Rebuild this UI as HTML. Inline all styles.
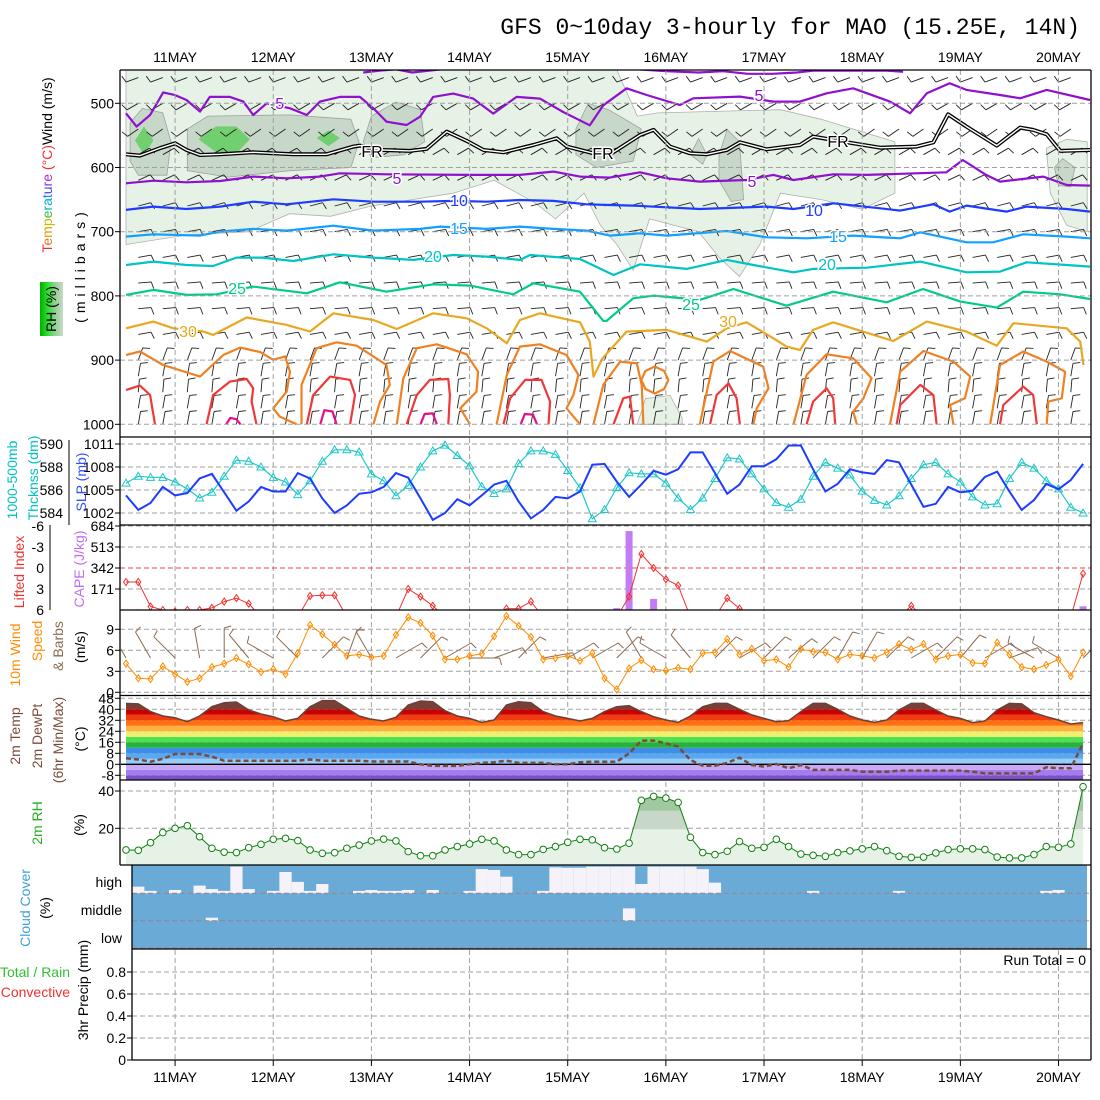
<!DOCTYPE html>
<html><head><meta charset="utf-8">
<style>
html,body{margin:0;padding:0;background:#fff;}
svg{display:block;font-family:"Liberation Sans",sans-serif;}
.t{font-size:14px;fill:#000;}
.tk{font-size:13px;fill:#000;}
</style></head>
<body>
<svg id="chart" width="1100" height="1100" viewBox="0 0 1100 1100" xmlns="http://www.w3.org/2000/svg">
<defs>
<clipPath id="cp1"><rect x="121" y="70" width="970" height="367"/></clipPath>
<clipPath id="cp2"><rect x="121" y="437" width="970" height="88"/></clipPath>
<clipPath id="cp3"><rect x="121" y="525" width="970" height="85"/></clipPath>
<clipPath id="cp4"><rect x="121" y="610" width="970" height="85"/></clipPath>
<clipPath id="cp5"><rect x="121" y="696" width="970" height="84"/></clipPath>
<clipPath id="cp6"><rect x="121" y="780" width="970" height="85"/></clipPath>
<linearGradient id="rhg" x1="0" x2="1" y1="0" y2="0">
<stop offset="0" stop-color="#00b000"/><stop offset="0.35" stop-color="#30e030"/><stop offset="0.65" stop-color="#90d090"/><stop offset="1" stop-color="#c8d8c8"/>
</linearGradient>
</defs>
<rect x="0" y="0" width="1100" height="1100" fill="#fff"/>
<g id="layer"></g>
<text x="1080" y="34" text-anchor="end" style="font-family:'Liberation Mono',monospace;font-size:23px">GFS 0~10day 3-hourly for MAO (15.25E, 14N)</text>

<!-- panel 1 titles -->
<text transform="rotate(-90 52 165)" x="52" y="165" text-anchor="middle" class="t"><tspan fill="#f03030">T</tspan><tspan fill="#f07020">e</tspan><tspan fill="#e0a000">m</tspan><tspan fill="#c0c000">p</tspan><tspan fill="#40c040">e</tspan><tspan fill="#00c0a0">r</tspan><tspan fill="#00b0e0">a</tspan><tspan fill="#2080ff">t</tspan><tspan fill="#4040ff">u</tspan><tspan fill="#8040e0">r</tspan><tspan fill="#a030d0">e</tspan><tspan fill="#f03030"> (°C)</tspan><tspan fill="#000">Wind (m/s)</tspan></text>
<rect x="40" y="282" width="23" height="54" fill="url(#rhg)"/>
<text transform="rotate(-90 56 309)" x="56" y="309" text-anchor="middle" class="t">RH (%)</text>
<text transform="rotate(-90 85 265)" x="85" y="265" text-anchor="middle" class="t" style="letter-spacing:5px">(millibars)</text>
<!-- panel 2 -->
<text transform="rotate(-90 17 480)" x="17" y="480" text-anchor="middle" class="t" fill="#00c8c8" style="fill:#00c0c0">1000-500mb</text>
<text transform="rotate(-90 38 478)" x="38" y="478" text-anchor="middle" class="t" style="fill:#00c0c0">Thcknss (dm)</text>
<text transform="rotate(-90 86 482)" x="86" y="482" text-anchor="middle" class="t" style="fill:#3050ff">SLP (mb)</text>
<!-- panel 3 -->
<text transform="rotate(-90 24 572)" x="24" y="572" text-anchor="middle" class="t" style="fill:#f03030">Lifted Index</text>
<text transform="rotate(-90 84 569)" x="84" y="569" text-anchor="middle" class="t" style="fill:#c070f0">CAPE (J/kg)</text>
<!-- panel 4 -->
<text transform="rotate(-90 20 655)" x="20" y="655" text-anchor="middle" class="t" style="fill:#ff8c00">10m Wind</text>
<text transform="rotate(-90 42 641)" x="42" y="641" text-anchor="middle" class="t" style="fill:#ff8c00">Speed</text>
<text transform="rotate(-90 63 646)" x="63" y="646" text-anchor="middle" class="t" style="fill:#8a6a50">&amp; Barbs</text>
<text transform="rotate(-90 85 647)" x="85" y="647" text-anchor="middle" class="t">(m/s)</text>
<!-- panel 5 -->
<text transform="rotate(-90 20 736)" x="20" y="736" text-anchor="middle" class="t" style="fill:#7a4a3a">2m Temp</text>
<text transform="rotate(-90 42 736)" x="42" y="736" text-anchor="middle" class="t" style="fill:#7a4a3a">2m DewPt</text>
<text transform="rotate(-90 63 740)" x="63" y="740" text-anchor="middle" class="t" style="fill:#7a4a3a">(6hr Min/Max)</text>
<text transform="rotate(-90 85 739)" x="85" y="739" text-anchor="middle" class="t">(°C)</text>
<!-- panel 6 -->
<text transform="rotate(-90 42 823)" x="42" y="823" text-anchor="middle" class="t" style="fill:#20b020">2m RH</text>
<text transform="rotate(-90 84 825)" x="84" y="825" text-anchor="middle" class="t">(%)</text>
<!-- panel 7 -->
<text transform="rotate(-90 30 908)" x="30" y="908" text-anchor="middle" class="t" style="fill:#40a0d8">Cloud Cover</text>
<text transform="rotate(-90 50 908)" x="50" y="908" text-anchor="middle" class="t">(%)</text>
<text x="122" y="887" text-anchor="end" class="t">high</text>
<text x="122" y="915" text-anchor="end" class="t">middle</text>
<text x="122" y="943" text-anchor="end" class="t">low</text>
<!-- panel 8 -->
<text x="70" y="977" text-anchor="end" class="t" style="fill:#30c030">Total / Rain</text>
<text x="70" y="997" text-anchor="end" class="t" style="fill:#f03030">Convective</text>
<text transform="rotate(-90 88 990)" x="88" y="990" text-anchor="middle" class="t">3hr Precip (mm)</text>
<text x="1086" y="965" text-anchor="end" class="t">Run Total = 0</text>
</svg>
<script>
// ---------- data ----------
const dayLabels = ["11MAY","12MAY","13MAY","14MAY","15MAY","16MAY","17MAY","18MAY","19MAY","20MAY"];
const pTicks = [500,600,700,800,900,1000];
const slpTicks = [1011,1008,1005,1002];
const thkTicks = [590,588,586,584];
const liTicks = [-6,-3,0,3,6];
const capeTicks = [684,513,342,171];
const windTicks = [9,6,3,0];
const tempTicks = [48,40,32,24,16,8,0,-8];
const rhTicks = [40,20];
const precipTicks = [0.8,0.6,0.4,0.2,0];

const slp = [1004.3,1002.4,1003.3,1005.4,1004.3,1004.6,1006.5,1007.1,1004.7,1002.3,
1003.5,1005.4,1004.8,1004.8,1007.2,1006.5,1003.9,1002,1003,1004.5,
1004.7,1005.4,1007.2,1006.6,1003.9,1001.1,1002,1003.8,1003,1004.3,
1005.7,1006.2,1003.5,1001.3,1002.4,1004.1,1003.9,1004.8,1008.3,1008.4,
1006.1,1004.1,1005.7,1007.5,1007,1007.7,1009.9,1009.9,1007.2,1004.5,
1005.7,1008.1,1008.1,1009,1010.8,1010.8,1007.7,1004.8,1005.8,1007.7,
1007.3,1007.1,1008.9,1008.6,1005.7,1002.8,1003.2,1005.4,1004.7,1004.9,
1006.7,1007.4,1004.8,1002.4,1003.7,1005.8,1005.1,1006.3,1008.4];
const thickness = [586.6,587.2,587.1,587.1,586.7,586.1,585.3,585.8,587.2,588.6,
588.5,588,587.1,586.7,585.6,586.8,588.5,589.5,589.5,589.3,
587.4,586.8,585.5,586.4,588,589.4,589.9,589,588.1,586.3,
585.7,586.1,588.3,589.4,589.4,589.1,587.7,586.2,583.5,584.3,
586.2,587.5,587.4,587.4,586.6,585.3,584.3,585.3,587,588.8,
588.7,587.4,586.1,584.9,584.5,585.2,587.2,588.4,587.9,587.3,
585.9,585.1,584.7,585.5,587,588.2,588.4,587.4,586.7,585.4,
584.7,584.8,587,588.4,587.9,586.8,586.1,584.5,584];
const liftedIndex = [2,2,5.5,6,6.2,6,6,5.7,4.8,4.3,
5.1,7,7,7,7,4,3.9,3.9,7,7,
7,7,7,3,4.1,5.4,7,7,7,7,
7,5.8,5.8,4.8,7,7,7,7,7,7,
7,4.1,-2,0,1.6,2.5,7,7,7,4.3,
5.8,7,7,7,7,7,7,7,7,7,
7,7,7,7,5.4,7,7,7,7,7,
7,7,7,7,7,7,7,7,0.8];
const cape = [0,5,0,0,0,0,0,0,0,0, 0,0,0,0,0,0,0,0,0,0, 0,0,0,0,0,0,0,0,0,0, 0,0,0,0,0,0,0,0,0,0,
15,643,0,90,0,0,0,0,0,0, 0,0,0,0,0,0,0,0,0,0, 0,0,0,0,0,0,0,0,0,0, 0,0,0,0,0,0,0,0,30];
const windSpeed = [4.1,2,1.9,3.7,2.6,1.5,2,3.6,4.1,4.9,
4,2.9,3.3,2.6,5.6,9.6,8.3,6.8,5.2,5.4,
5,5.2,8.2,10.7,9.9,8.1,4.7,4.7,5.2,5.5,
8,10.9,9.5,7.9,4.7,4.9,5.2,4.5,5.6,2,
0.4,3.4,4.6,3.3,3.1,3.5,3.3,5.6,5.7,7.6,
5.4,6.2,4.5,4.7,3.6,6.2,5.8,5.7,4.7,5.4,
5.2,4.9,5.7,6.9,6.1,6.9,4.7,5.2,5.4,4.2,
4.1,7.1,5.4,3.6,3.3,3.9,4.7,2.3,5.7];
const windDir10m = [330,330,315,350,0,320,300,315,45,20,330,60,45,60,90,70,45,80,60,60,45,330,300,320,45,60,45,50,45,30,30,45,60,45,40,60,70,300,300,45];
const temp2m = [44.3,43.9,38.3,35.1,33.9,31,35.1,41.9,44.8,45.3,
39.5,36.6,34.6,31.5,33.4,41.9,46.3,46.3,40.7,35.1,
32.7,31.5,34.2,43.1,46,45.5,39,35.1,33.4,30.5,
32.2,43.1,45.5,44.8,38.3,35.1,33.4,31.5,33.4,38.3,
41.9,42.6,38.3,34.6,32.2,30.5,35.1,41.9,44.3,44.3,
40,35.9,33.4,31,31.7,38.3,44.3,44.3,40,35.1,
32.2,30.5,32.2,39.5,44.3,44.3,39.5,35.1,33.4,30.3,
31.5,39.5,44.3,43.9,37.5,34.6,32.2,29.3,30.3];
const dew2m = [4.4,3.5,1.9,4,7.5,7.5,7.5,5.5,2.6,2.6,
2.6,2.6,2.6,2.6,2.6,3.5,2.6,2.6,2.6,2.6,
2,2,2,2,0,-1.2,-1.2,-1.2,0,1,
1.5,2.6,1,1,1,0,0,1.5,1.9,1.9,
1.9,8,17.2,17.2,15.3,12.8,3.1,-1,-1,1,
4.8,-0.5,-1.7,0.2,-2.9,-0.5,-4.1,-4.1,-4.1,-4.1,
-5.4,-5.4,-5.4,-4.6,-4.6,-4.6,-4.6,-4.6,-4.6,-5.4,
-6.6,-6.6,-6.6,-6.6,-6.6,-2.2,-2.9,-2.9,15.3];
const rh2m = [8.4,8.2,12.3,17.7,20,21.4,15.5,9.3,7.2,7,
9.6,11.4,14.1,14.6,13.4,8.4,6.6,6.9,9.3,11,
13.2,14.2,13.2,7.5,5.3,5.3,8.4,10.2,11.6,14.1,
13.2,8.4,5.9,5.9,8.7,10.2,12.5,14.1,13.8,9.6,
8.9,12,35,37.1,36.2,33.9,15.2,7,5.9,7.7,
12.9,9.3,9.8,14.1,10.2,6.2,5.5,5,7,7.9,
9,10.2,8,5,4.4,4.6,6.8,8.6,9,9,
8.6,4.6,4.1,4.1,5.9,10.2,9.8,11.6,42.3];
const highCloud = [100,75,91,100,87.5,100,71,84,91,0,
84,100,91,20,57,91,65,100,100,91,
87.5,91,91,87.5,100,87.5,100,100,91,9,
12.5,37.5,100,100,91,2.5,4,4,0,0,
0,0,65,0,0,0,0,9,60,100,
100,100,100,100,100,100,91,100,100,100,
100,100,100,91,100,100,100,100,100,100,
100,100,100,100,100,91,87.5,100,100];
const midCloud = highCloud.map(()=>100); midCloud[7]=89; midCloud[41]=55;
const lowCloud = highCloud.map(()=>100);
const precip = highCloud.map(()=>0);

// Upper-air isotherms: hours since start / pressure (mb)
const isoM5H = [0,2.6,5.9,9.1,12,14.8,18.1,20.5,25.4,28.7,31.1,34.4,40.1,44.2,47.4,52.3,57.2,60.5,63.7,68.6,71.9,75.1,80,84.9,89.8,95.5,101.2,106.9,113.4,116.7,122.4,127.3,135.4,138.7,150.1,158.3,164.8,171.3,177.8,186.8,191.7,195.8,201.4,205.5,213.7,218.6,225.1,235.7];
const isoM5P = [515.6,536.3,518.2,483,487.2,494.8,513,490,490,497.4,518.2,500,507.8,518.2,497.4,490,490,507.8,528.6,533.8,520.8,490,484.9,492.7,516,490,492.7,513.5,534.3,503.1,476.6,487,502.6,492.2,489.6,497.4,497.4,484.4,476.6,497.4,515.6,484.4,468.8,479.2,487,492.2,479.2,494.8];
const isoM10H = [58,62,66,70,80,100,120,132,140,146,152,158,164,168,186,190];
const isoM10P = [452,449,447,452,445,445,445,450,452,450,454,454,452,449,449,451];
const isoFrH = [0,3.4,8.3,12,14.8,18.1,23,31.1,40.9,49,55.6,57.2,62.9,69.4,73.5,78.4,83.3,87.4,92.3,99.6,105.3,107.8,114.3,118.3,120,125.7,129,133,137.9,142,146.9,150.1,156.6,164.8,168,177.8,184.4,193.3,197.4,201,205.5,212.9,218.6,221.8,225.1,228.4,235.7];
const isoFrP = [579.4,581.4,570,562.3,572.7,580.5,579.4,576.3,579.4,579.4,567.5,565.9,572.7,574.2,571.1,544.1,558.6,572.7,576.3,564.9,554.5,567.5,577.9,579.4,572.7,549.3,541.5,567.5,577.9,579.4,572.7,560.7,571.7,564.9,551.9,562.3,569.1,567.5,560.7,517.1,536.3,565.9,537.9,541.5,548.3,574.2,572.7];
const iso5H = [0,6.7,14.8,23,31.1,39.3,47.4,52.3,63.7,84.1,96.3,104.5,111,118.3,125.7,132.2,140.3,151.7,158.3,163.2,172.9,181.1,200.6,204.6,210.3,213.7,224.3,230,235.7];
const iso5P = [624.6,620.5,623.1,621,614.2,616.8,614.2,609,610.6,611.6,611.6,606.4,614.2,615.8,607.5,616.8,622,619.4,611.6,619.4,610.6,611.6,607.5,588.3,611.6,622,614.2,627.2,628.2];
const iso10H = [0,6.7,14.8,23,31.1,39.3,50.7,60.5,71.9,80,88.2,96.3,104.5,112.6,118.3,124,140.3,156.6,163.2,172.9,184.4,189.3,197.4,201.4,205.5,215.3,220.2,230,235.7];
const iso10P = [666.1,660.9,664.6,660.9,653.2,657.3,649.5,653.2,653.2,652.1,653.2,650.6,652.1,657.3,658.4,659.4,664.6,660.9,664.6,655.8,663.6,667.2,657.3,668.7,659.4,668.7,660.9,664.6,668.7];
const iso15H = [0,6.7,18.1,23,31.1,39.3,50.7,60.5,71.9,76.8,88.2,96.3,104.5,112.6,118.3,125.7,132.2,146.9,156.6,166.4,177.8,189.3,194.2,205.5,212,219.4,230,235.7];
const iso15P = [707.7,704,706.1,699.9,695.7,698.3,690.6,698.3,695.7,692.1,695.7,692.1,695.7,698.3,706.1,702.5,706.1,698.9,708.7,710.3,706.1,710.3,701,716.5,716.5,704,707.7,710.3];
const iso20H = [0,6.7,14.8,21.3,27,33.4,40.9,50.7,60.5,70.3,80,88.2,96.3,98.8,111,118.3,119.2,125.7,137.1,146.9,153.4,163.2,168,181.1,194.2,205.5,213.7,220.2,230,235.7];
const iso20P = [751.8,746.6,751.8,753.4,740.4,740.4,745.6,735.2,740.4,744,736.3,738.8,744,736.3,742.5,764.8,767.4,750.8,758,744,751.8,763.2,758,756,746.6,763.2,762.2,747.7,751.8,754.4];
const iso25H = [0,6.7,14.8,22.2,31.1,44.2,52.3,63.7,75.1,84.1,94.7,99.6,111,116.7,117.5,124,129,140.3,148.5,161.5,172.9,186,194.9,204,212.9,219.4,228.4,235.7];
const iso25P = [798.5,790.7,798.5,797.5,785.5,795.9,778.8,793.4,781.9,784,797.5,780.4,793.4,839,839,803.7,799.6,806.3,789.2,815.2,793.4,810,789.2,808.9,818.3,793.4,797.5,804.8];
const iso30H = [0,6.7,11.6,18.9,21.3,29.5,39.3,45,50.7,60.5,66.2,75.1,83.3,88.2,93.1,96.3,101.2,111,113.4,114.3,116.5,122.4,132.2,142,146.9,151.7,158.3,161.5,164.8,168,172.9,187.6,195.8,205.5,212.9,217,230,233.3,234.1];
const iso30P = [850.4,840,850.4,855.5,860.7,833.7,845.2,855.5,827.1,837.5,851.5,827.1,834.9,850.4,873.8,837.5,827.1,841.1,871.2,925.7,897.2,855.6,853,871.2,850.4,841.1,866,879,884.2,853,841.1,870.2,840,855.6,877.5,842.6,850.4,871.2,907.6];
const iso35Arches = [
 [[0,3.4,9.1,18.1,23.8,27.9,32.8,36,38.9,40.1,39.3,36,37.6,41.7],[892,886.6,907.6,925.7,892,880.5,887.6,899.5,894.3,918,949,975,988,1000]],
 [[42.9,42.9,46.6,51.5,56.4,63.7,64.5,62.1,60.5],[1000,938.7,881.5,872.3,877.5,907.6,938.7,964.7,1000]],
 [[66.2,67.8,71.1,76,83.3,86.1,85.7,81.7,84.1],[1000,928.3,881.5,875.4,891,918,949,975,1000]],
 [[90.6,93.1,96.3,101.2,107.7,110.6,109.4,107.7,111],[1000,923,878.9,875.4,892,923,954.3,975,1000]],
 [[114.3,116.7,120.8,124.9,126.1,126.5],[1000,938.7,902.4,905,938.7,1000]],
 [[126,127,129.3,131.6,132.6,131.6,129.3,127,126],[931,917,910,917,931,945,952,945,931]],
 [[140.3,143.6,147.7,155.8,157.1,154.2,153.4],[1000,902.4,885.8,910.2,943.9,975,1000]],
 [[163.2,166.4,171.3,177.8,182.3,180.3,177.8,178.7],[1000,923,891,897.2,928.3,959.5,980.3,1000]],
 [[186.8,189.3,195,202.3,206.4,205.1,201.5,202.3],[1000,918,885.8,902.4,925.7,959.5,969.9,1000]],
 [[211.3,213.7,219.4,225.1,229.6,228.8,225.5,225.1],[1000,907.6,886.6,902.4,918,959.5,964.7,1000]]
];
const iso40Arches = [
 [[0,3.4,5.9,7.1],[946.5,939.7,954.3,1000]],
 [[19.7,21.3,25.4,29.5,31.1,30.7,31.9],[1000,954.3,933.5,929.4,943.9,964.7,1000]],
 [[44.2,45.8,49.9,54.8,56,54.8],[1000,954.3,925.7,930.9,954.3,1000]],
 [[68.6,71.1,74.3,78.8,79.2,78.8],[1000,954.3,930.9,929.4,954.3,1000]],
 [[92.3,93.9,97.6,101.6,103.7,103.3],[1000,959.5,930.9,930.9,964.7,1000]],
 [[119.2,121.6,123.2,124],[1000,959.5,956.9,1000]],
 [[142.8,144.4,147.3,149.3,150.1],[1000,954.3,936.1,959.5,1000]],
 [[166.4,168,171.3,172.9,173.4],[1000,964.7,943.9,959.5,1000]],
 [[188.4,189.3,194.2,197.4,198.2],[1000,969.9,938.7,954.3,1000]],
 [[213.7,214.5,219.4,221.8,222.7],[1000,969.9,941.3,954.3,1000]]
];
const iso45Arches = [
 [[24.5,25.5,27,28],[1000,990,992,1000]],
 [[47.5,48.5,50.5,51.5],[1000,978,980,1000]],
 [[72,73,75,76],[1000,984,983,1000]],
 [[96.5,97.5,99.5,100.5],[1000,984,985,1000]]
];
const rhLight = [
 [[0,120,125,130,160,170,188,188,180,170,160,155,150,145,140,128,124,120,116,112,105,100,90,80,70,60,50,40,30,15,0],
  [448,448,520,515,510,525,560,640,665,650,640,720,770,740,700,680,760,720,690,640,680,655,620,640,650,660,676,672,700,705,720]],
 [[225,230,235,235,230,226],[570,556,560,700,690,640]],
 [[125,127,133,136,136],[1000,960,955,990,1000]]
];
const rhMid = [
 [[1,4,9,11,10,3,1],[530,508,515,560,612,612,590]],
 [[15,20,40,55,57,55,40,25,15],[540,520,518,525,560,600,605,615,605]],
 [[58,60,66,72,73,68,60],[560,520,498,510,560,580,585]],
 [[110,113,118,126,124,115,110],[540,500,510,540,590,600,580]],
 [[138,140,142,141],[580,555,580,595]],
 [[145,147,150,151,148,145],[580,541,560,650,653,620]],
 [[227,229,232,231,228],[600,586,600,630,628]]
];
const rhHigh = [
 [[2.2,4.4,6.7,4.4],[558,536,558,580]],
 [[17.7,22,27,30.3,27,22],[556,536,536,556,578,576]],
 [[46.6,49.5,52.3,49.5],[554,542,554,567]]
];
const barbLevels = [460,500,540,580,620,660,700,740,780,820,860,900,925,950,975,1000];
const barbDirs   = [250,240,235,60,65,75,80,80,85,85,80,20,10,5,10,10];
const barbSpeeds = [10,10,12,8,10,10,10,10,10,10,10,8,8,8,8,8];

// ---------- scales ----------
const X = h => 126 + h * 4.09;
const XI = i => X(3 * i);
const Yp = p => 103.3 + (p - 500) * 0.642;
const Yslp = v => 444 + (1011 - v) * 7.667;
const Ythk = v => 444 + (590 - v) * 11.5;
const Yli = v => 568 + v * 7;
const Ycape = v => 610 - v * 84 / 684;
const Ywind = v => 692.3 - 7 * v;
const Ytemp = v => 764.3 - 1.375 * v;
const Yrh = v => 865.6 - 1.865 * v;
const Ypr = v => 1060 - 110 * v;

const NS = "http://www.w3.org/2000/svg";
const root = document.getElementById("layer");
function mk(tag, attrs, parent) {
  const e = document.createElementNS(NS, tag);
  for (const k in attrs) e.setAttribute(k, attrs[k]);
  (parent || root).appendChild(e);
  return e;
}
function grp(clip, name) {
  const g = mk("g", clip ? {"clip-path": "url(#" + clip + ")"} : {});
  
  
  return g;
}
const pts = (xs, ys) => xs.map((x, k) => x.toFixed(1) + "," + ys[k].toFixed(1)).join(" ");
const idx = slp.map((_, i) => i);

// ---------- panel 1: upper air ----------
const g1 = grp("cp1", "upper-air-panel");
rhLight.forEach(r => {
  const e = mk("polygon", {points: pts(r[0].map(X), r[1].map(Yp)), fill: "#e6f2e6", stroke: "#b0b0b0", "stroke-width": 0.8}, g1);
  
  
});
rhMid.forEach(r => {
  const e = mk("polygon", {points: pts(r[0].map(X), r[1].map(Yp)), fill: "#c8d8c8", stroke: "#a0a0a0", "stroke-width": 0.8}, g1);
  
  
});
rhHigh.forEach(r => {
  const e = mk("polygon", {points: pts(r[0].map(X), r[1].map(Yp)), fill: "#70d070", stroke: "none"}, g1);
  
  
});
function barb(parent, x, y, dir, len, spd, color, w) {
  const a = dir * Math.PI / 180;
  const ex = x + Math.sin(a) * len, ey = y - Math.cos(a) * len;
  const b = (dir + 90) * Math.PI / 180;
  let d = "M" + x.toFixed(1) + "," + y.toFixed(1) + "L" + ex.toFixed(1) + "," + ey.toFixed(1);
  const n = Math.max(1, Math.round(spd / 10));
  for (let k = 0; k < n; k++) {
    const sx = ex - Math.sin(a) * k * 3, sy = ey + Math.cos(a) * k * 3;
    d += "M" + sx.toFixed(1) + "," + sy.toFixed(1) + "L" + (sx + Math.sin(b) * 7 + Math.sin(a) * 2).toFixed(1) + "," + (sy - Math.cos(b) * 7 - Math.cos(a) * 2).toFixed(1);
  }
  return mk("path", {d: d, stroke: color, "stroke-width": w, fill: "none"}, parent);
}
barbLevels.forEach((p, li) => {
  for (let i = 1; i < slp.length; i += 2) {
    const e = barb(g1, XI(i), Yp(p), barbDirs[li], 13, barbSpeeds[li], "#222", 0.9);
    
    
  }
});
function contour(h, p, color, w, name) {
  const e = mk("polyline", {points: pts(h.map(X), p.map(Yp)), fill: "none", stroke: color, "stroke-width": w, "stroke-linejoin": "round"}, g1);
  
  
  return e;
}
contour(isoM10H, isoM10P, "#9010d0", 2.2, "isotherm-minus10");
contour(isoM5H, isoM5P, "#9010d0", 2.2, "isotherm-minus5");
contour(isoFrH, isoFrP, "#000", 4, "freezing-level-outer");
contour(isoFrH, isoFrP, "#fff", 1.4, "freezing-level-inner");
contour(iso5H, iso5P, "#9010d0", 2.2, "isotherm-5");
contour(iso10H, iso10P, "#1e3cff", 2.2, "isotherm-10");
contour(iso15H, iso15P, "#10a0ff", 2.2, "isotherm-15");
contour(iso20H, iso20P, "#00c4c4", 2.2, "isotherm-20");
contour(iso25H, iso25P, "#00cc88", 2.2, "isotherm-25");
contour(iso30H, iso30P, "#e8a820", 2.2, "isotherm-30");
iso35Arches.forEach(a => contour(a[0], a[1], "#f08020", 2.2, "isotherm-35"));
iso40Arches.forEach(a => contour(a[0], a[1], "#f03838", 2.2, "isotherm-40"));
iso45Arches.forEach(a => contour(a[0], a[1], "#e0108a", 2.2, "isotherm-45"));

const contourLabels = [["-5",277,109,"#9010d0"],["5",397,184,"#9010d0"],["FR",372,157,"#000"],["10",459,206,"#1e3cff"],["15",459,234,"#10a0ff"],["20",433,262,"#00c4c4"],["25",237,294,"#00cc88"],["30",188,337,"#e8a820"],["FR",603,159,"#000"],
 ["5",759,101,"#9010d0"],["FR",838,147,"#000"],["5",752,187,"#9010d0"],["10",814,216,"#1e3cff"],["15",838,242,"#10a0ff"],["20",827,270,"#00c4c4"],["25",691,310,"#00cc88"],["30",728,327,"#e8a820"]];
contourLabels.forEach(l => {
  const bg = mk("rect", {x: l[1] - 10, y: l[2] - 13, width: 20, height: 15, fill: "#fff", opacity: 0.0}, g1);
  const t = mk("text", {x: l[1], y: l[2], "text-anchor": "middle", fill: l[3], "font-size": 16, stroke: "#fff", "stroke-width": 3, "paint-order": "stroke"}, g1);
  t.textContent = l[0];
  
  
});

// ---------- gridlines ----------
const gg = grp(null, "gridlines");
dayLabels.forEach((d, k) => {
  const x = X(12 + 24 * k);
  const l = mk("line", {x1: x, x2: x, y1: 70, y2: 1060, stroke: "#a0a0a0", "stroke-dasharray": "5,3", "stroke-width": 1}, gg);
  
  
  const t1 = mk("text", {x: x, y: 62, "text-anchor": "middle", "font-size": 14}, gg);
  t1.textContent = d;
  
  
  const t2 = mk("text", {x: x, y: 1082, "text-anchor": "middle", "font-size": 14}, gg);
  t2.textContent = d;
  
  
  const tk = mk("line", {x1: x, x2: x, y1: 1060, y2: 1066, stroke: "#000"}, gg);
  
  
});
function hgrid(y, x0, label, lx, name, color, dash) {
  const l = mk("line", {x1: x0, x2: 1091, y1: y, y2: y, stroke: color || "#a0a0a0", "stroke-dasharray": dash || "5,3"}, gg);
  
  
  if (label !== null) {
    const t = mk("text", {x: lx, y: y + 5, "text-anchor": "end", "font-size": 14}, gg);
    t.textContent = label;
    
    
    const tk = mk("line", {x1: lx + 1, x2: lx + 6, y1: y, y2: y, stroke: "#000"}, gg);
    
    
  }
}
pTicks.forEach(p => hgrid(Yp(p), 120, String(p), 114, "pressure"));
slpTicks.forEach(v => hgrid(Yslp(v), 120, String(v), 114, "slp"));
thkTicks.forEach(v => {
  const t = mk("text", {x: 63, y: Ythk(v) + 5, "text-anchor": "end", "font-size": 14}, gg);
  t.textContent = String(v);
  
  
});
const ax2 = mk("line", {x1: 69, x2: 69, y1: 440, y2: 525, stroke: "#000"}, gg);


liTicks.forEach(v => {
  const t = mk("text", {x: 44, y: Yli(v) + 5, "text-anchor": "end", "font-size": 14}, gg);
  t.textContent = String(v);
  
  
});
const ax3 = mk("line", {x1: 50, x2: 50, y1: 525, y2: 610, stroke: "#000"}, gg);


capeTicks.forEach(v => hgrid(Ycape(v), 120, String(v), 114, "cape", v === 342 ? "#f04040" : null));
windTicks.forEach(v => hgrid(Ywind(v), 120, String(v), 114, "wind"));
tempTicks.forEach(v => hgrid(Ytemp(v), 120, String(v), 114, "temp"));
rhTicks.forEach(v => hgrid(Yrh(v), 120, String(v), 114, "rh"));
[893.3, 920.7].forEach(y => hgrid(y, 132, null, 0, "cloud"));
precipTicks.forEach(v => hgrid(Ypr(v), 132, String(v), 126, "precip"));

// ---------- panel 2: SLP & thickness ----------
const g2 = grp("cp2", "slp-thickness-panel");
let e = mk("polyline", {points: pts(idx.map(XI), thickness.map(Ythk)), fill: "none", stroke: "#20c8c8", "stroke-width": 1.2}, g2);


thickness.forEach((v, i) => {
  const x = XI(i), y = Ythk(v);
  const m = mk("polygon", {points: x + "," + (y - 4) + " " + (x - 4) + "," + (y + 3) + " " + (x + 4) + "," + (y + 3), fill: "none", stroke: "#20c8c8", "stroke-width": 1}, g2);
  
  
});
e = mk("polyline", {points: pts(idx.map(XI), slp.map(Yslp)), fill: "none", stroke: "#1e3cff", "stroke-width": 2}, g2);



// ---------- panel 3: CAPE & LI ----------
const g3 = grp("cp3", "cape-li-panel");
cape.forEach((v, i) => {
  if (v <= 0) return;
  const b = mk("rect", {x: XI(i) - 3.5, y: Ycape(v), width: 7, height: 610 - Ycape(v), fill: "#c47cf4"}, g3);
  
  
});
e = mk("polyline", {points: pts(idx.map(XI), liftedIndex.map(Yli)), fill: "none", stroke: "#f03030", "stroke-width": 1}, g3);


liftedIndex.forEach((v, i) => {
  if (v > 6.3) return;
  const x = XI(i), y = Yli(v);
  const m = mk("polygon", {points: x + "," + (y - 3.5) + " " + (x + 2.5) + "," + y + " " + x + "," + (y + 3.5) + " " + (x - 2.5) + "," + y, fill: "none", stroke: "#f03030"}, g3);
  
  
});

// ---------- panel 4: 10m wind ----------
const g4 = grp("cp4", "wind-panel");
windDir10m.forEach((d, k) => {
  const i = k * 2;
  const b = barb(g4, XI(i), 658, d, 30, windSpeed[i], "#8a6a50", 1);
  
  
});
e = mk("polyline", {points: pts(idx.map(XI), windSpeed.map(Ywind)), fill: "none", stroke: "#ff8c00", "stroke-width": 1}, g4);


windSpeed.forEach((v, i) => {
  const x = XI(i), y = Ywind(v);
  const m = mk("polygon", {points: x + "," + (y - 3.5) + " " + (x + 2.5) + "," + y + " " + x + "," + (y + 3.5) + " " + (x - 2.5) + "," + y, fill: "none", stroke: "#ff8c00"}, g4);
  
  
});

// ---------- panel 5: temperature ----------
const g5 = grp("cp5", "temperature-panel");
const tclip = mk("clipPath", {id: "tclip"}, document.querySelector("defs"));
mk("polygon", {points: XI(0) + ",781 " + pts(idx.map(XI), temp2m.map(Ytemp)) + " " + XI(78) + ",781"}, tclip);
const tg = mk("g", {"clip-path": "url(#tclip)"}, g5);


const bandEdges = [-16,-8,-4,0,4,8,12,16,20,24,28,32,36,40,60];
const bandColors = ["#7a52c8","#a47cf0","#c8a8f8","#98ccf8","#5aa8f0","#3c8ee6","#28b040","#50e050","#f0f070","#ffb040","#ff7010","#f03c10","#c80000","#7a4038"];
bandColors.forEach((c, k) => {
  const r = mk("rect", {x: 120, y: Ytemp(bandEdges[k + 1]), width: 972, height: Ytemp(bandEdges[k]) - Ytemp(bandEdges[k + 1]), fill: c}, tg);
  
  
});
e = mk("polyline", {points: pts(idx.map(XI), temp2m.map(Ytemp)), fill: "none", stroke: "#6a4038", "stroke-width": 1.5}, g5);


e = mk("line", {x1: 120, x2: 1091, y1: Ytemp(0), y2: Ytemp(0), stroke: "#000", "stroke-width": 1.3}, g5);


e = mk("polyline", {points: pts(idx.map(XI), dew2m.map(Ytemp)), fill: "none", stroke: "#7a4a3a", "stroke-width": 2.5, "stroke-dasharray": "5,3"}, g5);



// ---------- panel 6: RH ----------
const g6 = grp("cp6", "rh-panel");
const rhArea = XI(0) + ",866 " + pts(idx.map(XI), rh2m.map(Yrh)) + " " + XI(78) + ",866";
const rclip = mk("clipPath", {id: "rclip"}, document.querySelector("defs"));
mk("polygon", {points: rhArea}, rclip);
const rg = mk("g", {"clip-path": "url(#rclip)"}, g6);


[[0, 20, "#e6f2e6"], [20, 30, "#c8d8c8"], [30, 100, "#a2c8a2"]].forEach(b => {
  const r = mk("rect", {x: 120, y: Yrh(b[1]), width: 972, height: Yrh(b[0]) - Yrh(b[1]) + 1, fill: b[2]}, rg);
  
  
});
e = mk("polyline", {points: pts(idx.map(XI), rh2m.map(Yrh)), fill: "none", stroke: "#108010", "stroke-width": 1}, g6);


rh2m.forEach((v, i) => {
  const c = mk("circle", {cx: XI(i), cy: Yrh(v), r: 3.3, fill: "#fff", stroke: "#108010"}, g6);
  
  
});

// ---------- panel 7: cloud ----------
const g7 = grp(null, "cloud-panel");
e = mk("rect", {x: 132, y: 865, width: 955, height: 84, fill: "#6aaad6"}, g7);


const bands = [[highCloud, 866.7, 893.3], [midCloud, 893.3, 920.7], [lowCloud, 920.7, 948]];
bands.forEach(b => {
  b[0].forEach((v, i) => {
    if (v >= 100) return;
    const h = (b[2] - b[1]) * (100 - v) / 100;
    const x0 = Math.max(132, XI(i) - 6.13), x1 = Math.min(1087, XI(i) + 6.13);
    if (x1 <= x0) return;
    const r = mk("rect", {x: x0, y: b[2] - h, width: x1 - x0, height: h, fill: "#f6f2fa"}, g7);
    
    
  });
});
[893.3, 920.7, 948].forEach(y => {
  const l = mk("line", {x1: 132, x2: 1087, y1: y, y2: y, stroke: "#a08080", "stroke-dasharray": "5,3"}, g7);
  
  
});

// ---------- panel 8: precip ----------
const g8 = grp(null, "precip-panel");
precip.forEach((v, i) => {
  if (v <= 0) return;
  const r = mk("rect", {x: XI(i) - 4, y: Ypr(v), width: 8, height: 1060 - Ypr(v), fill: "#30c030"}, g8);
  
  
});

// ---------- frames ----------
const gf = grp(null, "frames");
[70, 437, 525, 610, 695.5, 780, 865, 949, 1060].forEach(y => {
  const x0 = y >= 949 ? 132 : 120;
  const l = mk("line", {x1: y >= 865 && y > 865 ? 132 : x0, x2: 1091, y1: y, y2: y, stroke: "#000", "stroke-width": 1.3}, gf);
  
  
});
[[120, 70, 865], [132, 865, 1060], [1091, 70, 1060]].forEach(v => {
  const l = mk("line", {x1: v[0], x2: v[0], y1: v[1], y2: v[2], stroke: "#000", "stroke-width": 1.3}, gf);
  
  
});
</script>
</body></html>
